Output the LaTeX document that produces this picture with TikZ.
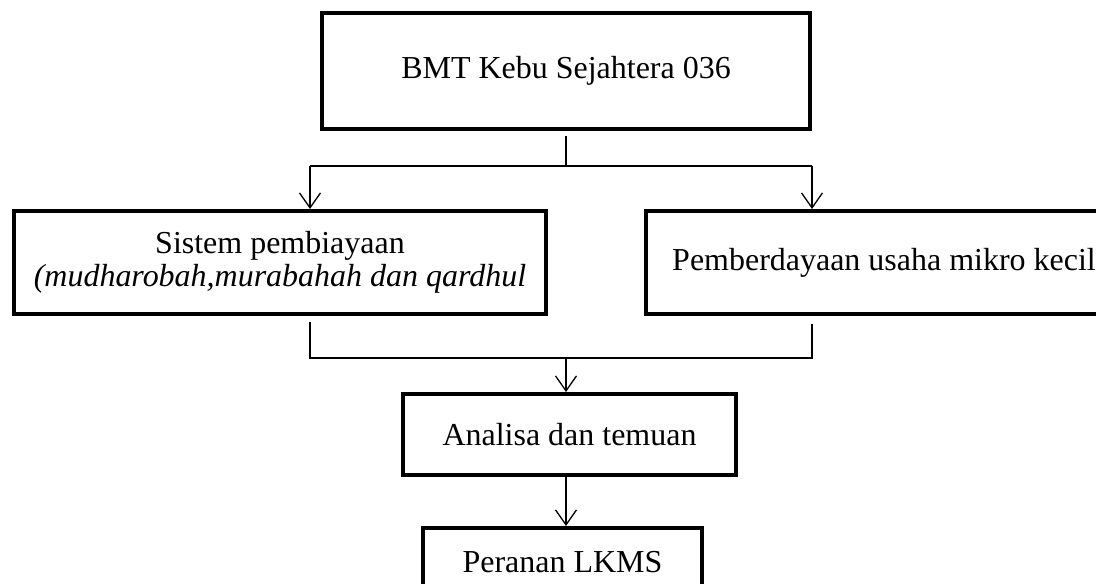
\documentclass[tikz,border=0pt]{standalone}
\usepackage{fontspec}
\setmainfont{Liberation Serif}
\usetikzlibrary{arrows.meta}
\tikzset{%
    box/.style={draw,shape=rectangle,line width=0.08cm,inner sep=0pt,align=center,font=\fontsize{18.2pt}{19pt}\selectfont},
    link/.style={line width=0.026cm},
    arrow/.style={link,-{Straight Barb[length=0.3cm,width=0.42cm]}},
}
\begin{document}
\begin{tikzpicture}[x=0.02cm,y=-0.02cm]
      \path[use as bounding box,clip] (0,0) rectangle (1096,584);

      \node[box,minimum width=9.76cm,minimum height=2.32cm] (bmt) at (566,71) {BMT Kebu Sejahtera 036};
      \node[box,minimum width=10.64cm,minimum height=2.06cm] (sistem) at (280,262.5) {Sistem pembiayaan\\\textit{(mudharobah,murabahah dan qardhul}};
      \node[box,minimum width=9.52cm,minimum height=2.06cm] (berdaya) at (884,262.5) {Pemberdayaan usaha mikro kecil};
      \node[box,minimum width=6.66cm,minimum height=1.62cm] (analisa) at (569.5,434.5) {Analisa dan temuan};
      \node[box,minimum width=5.58cm,minimum height=1.36cm] (peranan) at (562.5,562) {Peranan LKMS};

      \coordinate (split) at (566,166);
      \coordinate (splitL) at (310,166);
      \coordinate (splitR) at (812,166);
      \coordinate (join) at (566,358);
      \coordinate (joinL) at (310,358);
      \coordinate (joinR) at (812,358);

      \draw [link,shorten <=0.1cm] (bmt) -- (split);
      \draw [link] (splitL) -- (splitR);
      \draw [arrow] (splitL) -- (splitL |- sistem.north);
      \draw [arrow] (splitR) -- (splitR |- berdaya.north);

      \draw [link,shorten <=0.12cm,shorten >=0.16cm] (joinL |- sistem.south) -- (joinL) -- (joinR) -- (joinR |- berdaya.south);
      \draw [arrow] (join) -- (join |- analisa.north);
      \draw [arrow] (join |- analisa.south) -- (join |- peranan.north);
\end{tikzpicture}
\end{document}
